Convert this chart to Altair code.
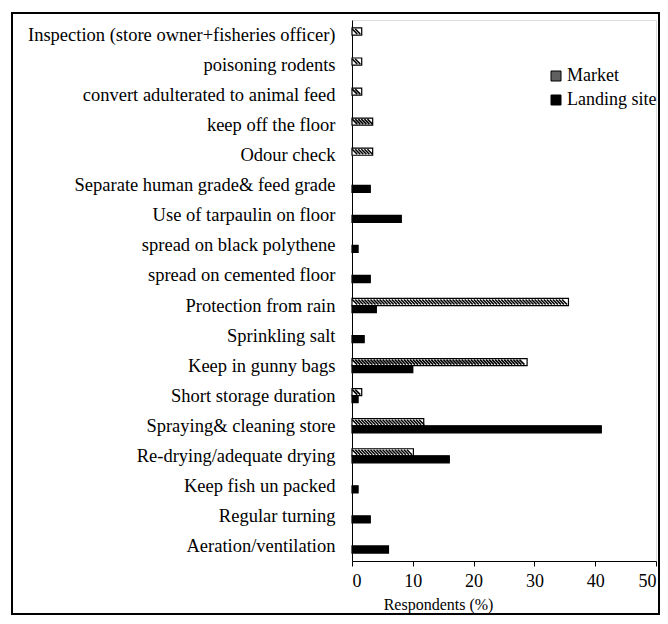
import altair as alt
import pandas as pd

categories = [
    "Inspection (store owner+fisheries officer)",
    "poisoning rodents",
    "convert adulterated to animal feed",
    "keep off the floor",
    "Odour check",
    "Separate human grade& feed grade",
    "Use of tarpaulin on floor",
    "spread on black polythene",
    "spread on cemented floor",
    "Protection from rain",
    "Sprinkling salt",
    "Keep in gunny bags",
    "Short storage duration",
    "Spraying& cleaning store",
    "Re-drying/adequate drying",
    "Keep fish un packed",
    "Regular turning",
    "Aeration/ventilation",
]
market = [1.6, 1.6, 1.6, 3.4, 3.4, 0, 0, 0, 0, 35.6, 0, 28.8, 1.6, 11.8, 10.1, 0, 0, 0]
landing = [0, 0, 0, 0, 0, 3.0, 8.1, 1.0, 3.0, 4.0, 2.0, 10.0, 1.0, 41.0, 16.0, 1.0, 3.0, 6.0]
series = ["Market", "Landing site"]
x_ticks = [0, 10, 20, 30, 40, 50]

rows = []
for c, m, l in zip(categories, market, landing):
    rows.append({"practice": c, "series": "Market", "value": m})
    rows.append({"practice": c, "series": "Landing site", "value": l})
df = pd.DataFrame(rows)

FONT = "Liberation Serif"

x_axis = alt.Axis(
    values=x_ticks, title="Respondents (%)", grid=False, format="d",
    domainColor="black", tickColor="black", tickSize=5,
    labelFont=FONT, labelFontSize=18, labelColor="black", labelPadding=6,
    titleFont=FONT, titleFontSize=16, titleFontWeight="normal", titleColor="black",
    titleX=86, titleY=48, titleAlign="center", titleBaseline="alphabetic",
)
x_scale = alt.Scale(domain=[0, 50], nice=False)
x_enc = alt.X("value:Q", scale=x_scale, axis=x_axis)
y_enc = alt.Y(
    "practice:N", sort=categories,
    scale=alt.Scale(paddingInner=0.53, paddingOuter=0.265),
    axis=alt.Axis(
        title=None, ticks=False, domainColor="black",
        labelFont=FONT, labelFontSize=18.5, labelColor="black", labelPadding=17,
        labelLimit=400,
    ),
)
yoff = alt.YOffset("series:N", sort=series, scale=alt.Scale(domain=series))

base = alt.Chart(df).transform_filter("datum.value > 0")

legend_layer = base.mark_bar().encode(
    x=x_enc, y=y_enc, yOffset=yoff,
    color=alt.Color(
        "series:N", sort=series,
        scale=alt.Scale(domain=series, range=["#606060", "#000000"]),
        legend=alt.Legend(
            title=None, orient="none", legendX=195, legendY=47,
            labelFont=FONT, labelFontSize=18, labelColor="black",
            symbolType="square", symbolSize=100, symbolStrokeColor="black",
            symbolStrokeWidth=1, rowPadding=6, labelOffset=2, padding=0,
        ),
    ),
)

bars = base.mark_bar(stroke="black", strokeWidth=1.2).encode(
    x=x_enc, y=y_enc, yOffset=yoff,
    color=alt.Color(
        "series:N", sort=series,
        scale=alt.Scale(domain=series, range=["#ffffff", "#000000"]),
        legend=None,
    ),
)

hatch = (
    alt.Chart(df)
    .transform_filter("datum.series == 'Market' && datum.value > 0")
    .transform_calculate(pos="sequence(0.45, datum.value - 0.35, 0.5)")
    .transform_flatten(["pos"])
    .mark_point(shape="M -1 -1 L 1 1", size=25, filled=False, stroke="black",
                strokeWidth=1.6, opacity=1)
    .encode(
        x=alt.X("pos:Q", scale=x_scale, axis=x_axis),
        y=y_enc, yOffset=yoff,
    )
)

frame = alt.Chart(pd.DataFrame({"a": [0]})).mark_rect(
    fillOpacity=0, stroke="black", strokeWidth=2
).encode(
    x=alt.value(-340), x2=alt.value(307), y=alt.value(-7), y2=alt.value(594)
)

chart = (
    alt.layer(legend_layer, bars, hatch, frame)
    .resolve_scale(color="independent")
    .properties(
        width=304, height=541,
        padding={"left": 344, "top": 12, "right": 4, "bottom": 55},
        autosize=alt.AutoSizeParams(type="none"),
    )
    .configure_view(stroke=None)
    .configure_axisX(labelFont=FONT, labelFontSize=18, labelColor="black")
    .configure_axisY(labelFont=FONT, labelFontSize=18.5, labelColor="black")
    .configure(background="white", font=FONT)
)

chart.save("out.html", embed_options={"renderer": "svg", "actions": False})
